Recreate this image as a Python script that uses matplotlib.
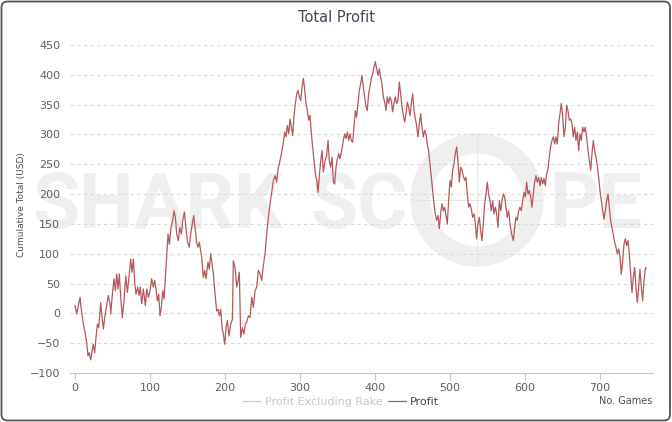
import numpy
import matplotlib
matplotlib.use('Agg')
import matplotlib.pyplot
import matplotlib.patches
import matplotlib.lines
import matplotlib.transforms

# cumulative profit (game number, USD)
games = [0, 2.2, 4.4, 6.7, 8, 11.1, 13.3, 15.6, 17.3, 19.1, 20.9, 22.7, 24.4, 26.2, 28, 29.8, 31.6, 34.2, 36, 37.8,
         39.6, 42.2, 44.4, 46.7, 47.6, 49.8, 52, 53.8, 55.6, 57.3, 59.1, 60.9, 63.1, 65.3, 67.6, 69.8, 72.4, 74.2, 76, 77.8,
         79.6, 81.3, 83.6, 85.3, 87.1, 88.9, 91.1, 93.8, 95.6, 97.8, 100, 102.2, 104.4, 106.2, 108, 109.8, 111.6, 113.3, 115.1, 116.9,
         118.7, 121.3, 124, 125.8, 128, 130.2, 132, 133.8, 135.6, 137.8, 139.6, 141.8, 143.6, 145.8, 148, 150.2, 152.4, 154.2, 156.4, 158.2,
         160, 162.2, 164, 165.8, 168.9, 171.1, 172.9, 174.7, 177.3, 179.1, 180.9, 182.7, 184.5, 186.7, 188.9, 190.7, 192.5, 194.3, 196, 197.8,
         199.6, 201.3, 203.1, 205.3, 207.6, 209.8, 211.1, 213.4, 215.6, 217.4, 219.1, 220.9, 223.1, 225.3, 227.1, 228.9, 231.1, 233.4, 235.6, 237.8,
         240, 242.2, 244.5, 246.7, 248.9, 251.1, 253.4, 255.6, 257.8, 260, 262.3, 264.5, 266.7, 268.9, 270.7, 272.5, 274.3, 276, 277.8, 279.6,
         281.4, 283.1, 284.9, 286.7, 288.5, 290.2, 292, 293.8, 295.6, 297.3, 299.1, 300.9, 302.7, 304.5, 306.3, 308, 309.8, 311.6, 313.4, 315.1,
         316.9, 318.7, 320.5, 322.3, 324, 325.8, 327.6, 329.4, 331.1, 333.4, 335.6, 337.4, 339.1, 340.9, 342.7, 344.5, 346.2, 348, 349.8, 351.6,
         353.3, 355.6, 357.8, 359.5, 361.3, 363.1, 364.9, 366.7, 368.4, 370.2, 372, 373.8, 375.5, 377.3, 379.1, 380.9, 382.6, 384.4, 386.2, 388,
         389.7, 391.5, 393.3, 395.1, 396.9, 398.6, 400.4, 402.2, 404, 405.8, 407.5, 409.3, 411.1, 412.9, 414.7, 416.4, 418.2, 420, 421.8, 423.5,
         425.3, 427.1, 428.9, 430.6, 432.4, 434.2, 436, 437.8, 439.5, 441.3, 443.1, 444.9, 446.6, 448.4, 450.2, 452, 453.8, 455.5, 457.3, 459.1,
         460.9, 462.6, 464.4, 466.2, 468, 469.7, 471.5, 473.3, 475.1, 476.9, 478.6, 480.4, 482.2, 484, 485.8, 487.5, 489.3, 491.1, 492.9, 494.6,
         496.4, 498.2, 500, 501.8, 503.5, 505.3, 507.1, 508.9, 510.6, 512.4, 514.2, 516, 517.7, 519.5, 521.3, 523.1, 524.9, 526.6, 528.4, 530.2,
         532, 533.8, 535.5, 537.3, 539.1, 540.9, 542.6, 544.4, 546.2, 548, 549.8, 551.5, 553.3, 555.1, 556.9, 558.6, 560.4, 562.2, 564, 565.8,
         567.6, 569.3, 571.1, 572.9, 574.7, 576.4, 578.2, 580, 582.2, 584.4, 586.2, 588, 589.8, 591.6, 593.3, 595.1, 596.9, 598.7, 600.4, 602.2,
         604, 605.8, 607.6, 609.3, 611.1, 612.9, 614.7, 616.4, 618.2, 620, 621.8, 623.6, 625.3, 627.1, 628.9, 630.7, 632.4, 634.2, 636, 637.8,
         639.6, 641.3, 643.1, 644.9, 646.7, 648.4, 650.2, 652, 653.8, 655.6, 657.3, 659.1, 660.9, 662.7, 664.4, 666.2, 668, 669.8, 671.6, 673.3,
         675.1, 676.9, 678.7, 680.4, 682.2, 684, 685.8, 687.6, 689.3, 691.1, 692.9, 694.7, 696.4, 698.2, 700, 701.8, 703.6, 705.3, 707.1, 708.9,
         710.7, 712.4, 714.2, 716, 717.8, 719.6, 721.3, 723.1, 724.9, 726.7, 728.4, 730.2, 732, 733.8, 735.6, 737.3, 739.1, 740.9, 742.7, 744.4,
         746.2, 748, 749.8, 751.6, 753.3, 755.1, 756.9, 758.7, 760.4, 761.3]
profit = [13, -1, 13, 27, 10, -18, -32, -49, -71, -66, -78, -63, -52, -66, -40, -18, -24, 18, -7, -26,
          -7, 13, 30, 16, -1, 32, 58, 38, 66, 41, 66, 27, -7, 21, 63, 35, 66, 91, 69, 91,
          52, 32, 44, 30, 44, 16, 41, 13, 41, 27, 38, 58, 44, 55, 41, 21, 32, -4, 10, 38,
          24, 77, 133, 116, 144, 156, 172, 161, 133, 122, 144, 133, 156, 170, 142, 119, 111, 133, 150, 164,
          144, 119, 111, 119, 94, 60, 72, 58, 86, 74, 100, 83, 66, 32, 4, 7, -4, 7, -24, -35,
          -52, -24, -12, -38, -18, -10, 88, 77, 44, 55, 69, -40, -24, -35, -18, -15, -4, -7, 27, 10,
          38, 44, 72, 66, 55, 80, 100, 133, 161, 184, 203, 223, 231, 220, 242, 251, 262, 273, 287, 304,
          296, 315, 301, 326, 312, 298, 332, 352, 368, 374, 363, 357, 380, 394, 374, 352, 340, 324, 332, 301,
          279, 256, 234, 223, 203, 231, 256, 273, 237, 256, 265, 290, 256, 245, 262, 220, 217, 245, 259, 268,
          259, 273, 290, 301, 293, 304, 290, 301, 290, 287, 312, 340, 329, 352, 374, 385, 399, 380, 363, 346,
          340, 368, 380, 394, 402, 413, 422, 410, 399, 410, 396, 385, 363, 354, 340, 363, 352, 363, 357, 338,
          352, 363, 352, 357, 388, 368, 346, 332, 321, 335, 354, 346, 332, 352, 368, 340, 326, 315, 296, 318,
          335, 312, 296, 307, 301, 284, 273, 251, 228, 206, 184, 167, 156, 164, 142, 167, 184, 172, 178, 164,
          150, 189, 223, 212, 240, 251, 268, 279, 256, 220, 245, 240, 231, 223, 228, 200, 178, 184, 175, 161,
          167, 150, 125, 150, 161, 139, 122, 150, 184, 200, 220, 200, 189, 172, 189, 167, 178, 167, 144, 189,
          172, 189, 200, 195, 178, 161, 172, 150, 133, 122, 144, 161, 156, 172, 178, 172, 189, 203, 195, 220,
          200, 206, 195, 178, 200, 220, 231, 220, 228, 214, 228, 217, 226, 214, 234, 242, 262, 279, 290, 296,
          284, 296, 284, 318, 335, 352, 332, 296, 312, 349, 340, 324, 326, 318, 296, 312, 290, 304, 273, 301,
          290, 312, 304, 312, 296, 273, 256, 240, 268, 290, 273, 262, 248, 228, 206, 189, 172, 158, 172, 189,
          200, 178, 156, 144, 133, 119, 111, 100, 108, 94, 66, 88, 116, 125, 114, 122, 100, 66, 35, 60,
          77, 44, 18, 44, 74, 44, 21, 55, 74, 77]

yticks = [-100, -50, 0, 50, 100, 150, 200, 250, 300, 350, 400, 450]
xticks = [0, 100, 200, 300, 400, 500, 600, 700]

W, H = 672, 422
fig = matplotlib.pyplot.figure(figsize=(W / 100, H / 100), dpi=100)
ax = fig.add_axes([70 / W, (H - 373) / H, (653 - 70) / W, (373 - 45) / H])
ax.set_facecolor('none')

# watermark behind everything; one size for all words, fitted to the width of SHARK
wm = '#efefef'
ident = matplotlib.transforms.IdentityTransform()
fig.canvas.draw()
rend = fig.canvas.get_renderer()
wtexts = []
for word, x0 in [('SHARK', 32), ('SC', 310), ('PE', 549)]:
    wtexts.append(fig.text(x0 / W, 1 - 228 / H, word, fontsize=50, fontweight='bold', family=['Roboto', 'DejaVu Sans'],
                           color=wm, ha='left', va='baseline', zorder=-2))
fs = 50 * 251 / wtexts[0].get_window_extent(rend).width
for t in wtexts:
    t.set_fontsize(fs)
ring = matplotlib.patches.Annulus((477, H - 200), 66, 19, transform=ident, color=wm, zorder=-2)
fig.add_artist(ring)
fig.add_artist(matplotlib.lines.Line2D([477, 477], [H - 265, H - 135], transform=ident, color='#e4e4e4', lw=0.6, zorder=-2))
fig.add_artist(matplotlib.lines.Line2D([412, 542], [H - 200, H - 200], transform=ident, color='#e4e4e4', lw=0.6, zorder=-2))

ax.plot(games, profit, color='#b5585c', lw=0.9, zorder=3)

ax.set_xlim(-6.7, 770.7)
ax.set_ylim(-100, 450)
ax.set_yticks(yticks)
ax.set_xticks(xticks)
ax.grid(axis='y', color='#d9d9d9', lw=0.8, ls=(0, (3, 3)))
ax.set_axisbelow(True)
for s in ['left', 'right', 'top']:
    ax.spines[s].set_visible(False)
ax.spines['bottom'].set_color('#c8c8c8')
ax.tick_params(axis='y', length=0, labelsize=8, labelcolor='#606060', pad=7)
ax.tick_params(axis='x', length=5, color='#c8c8c8', labelsize=8, labelcolor='#606060', pad=2)

fig.text(336 / W, 1 - 18 / H, 'Total Profit', fontsize=10.5, color='#3e4a58', ha='center', va='center')
fig.text(22 / W, 1 - 205 / H, 'Cumulative Total (USD)', fontsize=6.5, color='#505050', rotation=90, ha='center', va='center')
fig.text(652 / W, 1 - 401 / H, 'No. Games', fontsize=7, color='#505050', ha='right', va='center')

hnd = [matplotlib.lines.Line2D([], [], color='#cccccc', lw=0.9), matplotlib.lines.Line2D([], [], color='#b5585c', lw=0.9)]
fig.legend(handles=hnd, labels=['Profit Excluding Rake', 'Profit'], loc='center', bbox_to_anchor=(341 / W, 1 - 402 / H),
           ncol=2, frameon=False, fontsize=8, labelcolor=['#c8c8c8', '#3e4a58'], handlelength=1.6, handletextpad=0.4,
           columnspacing=0.5)

# rounded frame round the whole picture
frame = matplotlib.patches.FancyBboxPatch((1.5, 1.5), W - 3.5, H - 3, boxstyle='round,pad=0,rounding_size=6',
                                          transform=ident, fill=False, ec='#555555', lw=1.3)
fig.add_artist(frame)

fig.savefig('out.png')
